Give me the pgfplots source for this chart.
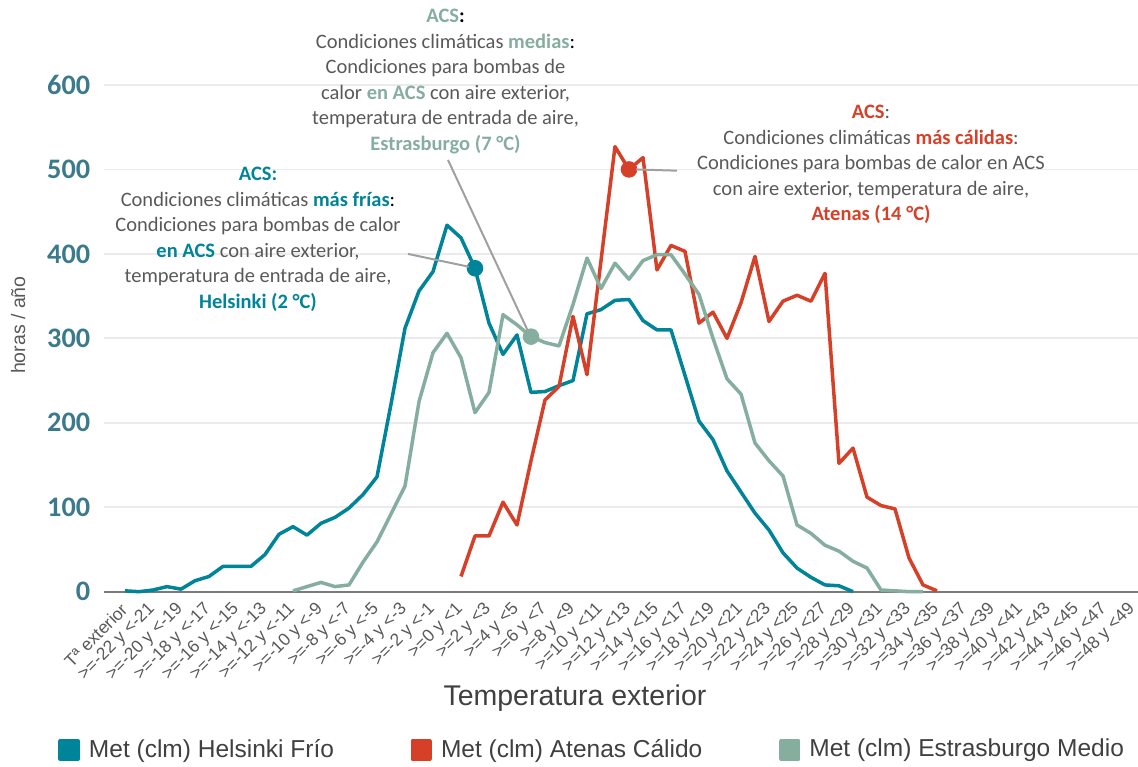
\documentclass[border=0pt]{standalone}
\usepackage{fontspec}
\setmainfont{Carlito}
\newfontfamily\arial{Liberation Sans}
\usepackage{pgfplots}
\pgfplotsset{compat=1.18}

\definecolor{hel}{HTML}{008499}
\definecolor{ate}{HTML}{D64028}
\definecolor{est}{HTML}{86AE9E}
\definecolor{tickc}{HTML}{3A7A8A}
\definecolor{txt}{HTML}{595959}
\definecolor{dark}{HTML}{404040}
\definecolor{lead}{HTML}{A0A0A0}
\definecolor{gridc}{HTML}{EBEBEB}
\definecolor{axc}{HTML}{7A7A7A}

\begin{document}
\begin{tikzpicture}
\begin{axis}[
    scale only axis,
    width=413.6pt, height=202.68pt,
    xmin=-0.5, xmax=73.357,
    ymin=0, ymax=600,
    axis x line*=bottom, axis y line*=left,
    x axis line style={color=axc, line width=0.8pt},
    y axis line style={draw=none},
    major tick length=0pt,
    ytick={0,100,...,600},
    ymajorgrids,
    grid style={color=gridc, line width=0.7pt},
    xtick={0,2,...,72},
    xticklabels={Tª exterior, >=-22 y <-21, >=-20 y <-19, >=-18 y <-17, >=-16 y <-15,
        >=-14 y <-13, >=-12 y <-11, >=-10 y <-9, >=-8 y <-7, >=-6 y <-5, >=-4 y <-3,
        >=-2 y <-1, >=0 y <1, >=2 y <3, >=4 y <5, >=6 y <7, >=8 y <9, >=10 y <11,
        >=12 y <13, >=14 y <15, >=16 y <17, >=18 y <19, >=20 y <21, >=22 y <23,
        >=24 y <25, >=26 y <27, >=28 y <29, >=30 y <31, >=32 y <33, >=34 y <35,
        >=36 y <37, >=38 y <39, >=40 y <41, >=42 y <43, >=44 y <45, >=46 y <47,
        >=48 y <49},
    xticklabel style={font=\arial\fontsize{7}{8}\selectfont, color=txt,
        rotate=45, anchor=east, xshift=3pt, yshift=-8pt},
    /pgf/number format/assume math mode=true,
    yticklabel style={font=\fontsize{11.3}{13}\selectfont\bfseries, color=tickc, xshift=-2pt},
    ylabel={horas / año},
    ylabel style={font=\arial\fontsize{7.8}{9}\selectfont, color=txt,
        at={(axis description cs:-0.083,0.526)}, anchor=center},
    xlabel={Temperatura exterior},
    xlabel style={font=\arial\fontsize{11.4}{13}\selectfont, color=dark,
        at={(axis description cs:0.4555,-0.21)}, anchor=center},
    legend columns=3,
    legend cell align=left,
    legend style={at={(axis description cs:-0.0445,-0.3124)}, anchor=west,
        draw=none, fill=none, inner sep=0pt,
        font=\arial\fontsize{9.8}{11}\selectfont, text=dark,
        /tikz/every odd column/.append style={column sep=1.6pt},
        /tikz/every even column/.append style={column sep=28.6pt}},
    legend image code/.code={\fill[#1] (0pt,-3.6pt) rectangle (7.2pt,3.6pt);},
    clip=false,
]
% Helsinki
\addplot[color=hel, line width=1.4pt, line join=round] coordinates {
(1,1) (2,0) (3,2) (4,6) (5,3) (6,13) (7,18) (8,30) (9,30) (10,30)
(11,44) (12,68) (13,77) (14,67) (15,81) (16,88) (17,99) (18,115) (19,136) (20,222)
(21,312) (22,356) (23,379) (24,434) (25,419) (26,383) (27,318) (28,281) (29,304) (30,236)
(31,237) (32,244) (33,250) (34,329) (35,334) (36,345) (37,346) (38,321) (39,310) (40,310)
(41,256) (42,202) (43,180) (44,143) (45,118) (46,93) (47,73) (48,46) (49,28) (50,17)
(51,8) (52,7) (53,0)
};
% Atenas
\addplot[color=ate, line width=1.4pt, line join=round] coordinates {
(25,18) (26,66) (27,66) (28,106) (29,79) (30,155)
(31,227) (32,243) (33,326) (34,257) (35,392) (36,527) (37,500) (38,514) (39,381) (40,410)
(41,403) (42,318) (43,331) (44,300) (45,342) (46,397) (47,320) (48,344) (49,351) (50,344)
(51,377) (52,152) (53,170) (54,112) (55,102) (56,98) (57,40) (58,8) (59,1)
};
% Estrasburgo
\addplot[color=est, line width=1.4pt, line join=round] coordinates {
(13,1) (14,6) (15,11) (16,6) (17,8) (18,35) (19,59) (20,92)
(21,125) (22,225) (23,283) (24,306) (25,277) (26,212) (27,236) (28,328) (29,316) (30,302)
(31,295) (32,291) (33,340) (34,395) (35,359) (36,389) (37,370) (38,392) (39,399) (40,399)
(41,376) (42,352) (43,300) (44,252) (45,234) (46,176) (47,155) (48,137) (49,79) (50,69)
(51,55) (52,48) (53,36) (54,28) (55,2) (56,1) (57,0) (58,0)
};
\legend{Met (clm) Helsinki Frío, Met (clm) Atenas Cálido, Met (clm) Estrasburgo Medio}

% highlighted points
\addplot[forget plot, only marks, mark=*, mark size=3.1pt, color=hel] coordinates {(26,383)};
\addplot[forget plot, only marks, mark=*, mark size=3.1pt, color=est] coordinates {(30,302)};
\addplot[forget plot, only marks, mark=*, mark size=3.1pt, color=ate] coordinates {(37,500)};
\coordinate (mh) at (axis cs:26,383);
\coordinate (me) at (axis cs:30,302);
\coordinate (ma) at (axis cs:37,500);
\end{axis}

% leader lines
\draw[lead, line width=0.8pt] (121.6pt,135.1pt) -- ([xshift=-2.5pt,yshift=0.6pt]mh);
\draw[lead, line width=0.8pt] (137.6pt,172.7pt) -- ([xshift=-1.4pt,yshift=2.6pt]me);
\draw[lead, line width=0.8pt] ([xshift=2.8pt]ma) -- (229.2pt,168.4pt);

% annotations
\node[align=center, font=\fontsize{8.2}{10.2}\selectfont, text=txt] at (61.6pt,140.9pt)
  {\textbf{\color{hel}ACS:}\\
   Condiciones climáticas \textbf{\color{hel}más frías}\textcolor{black}{:}\\
   Condiciones para bombas de calor\\
   \textbf{\color{hel}en ACS} con aire exterior,\\
   temperatura de entrada de aire,\\
   \textbf{\color{hel}Helsinki (2 °C)}};
\node[align=center, font=\fontsize{8.2}{10.2}\selectfont, text=txt] at (136.6pt,204pt)
  {\textbf{{\color{est}ACS}\textcolor{black}{:}}\\
   Condiciones climáticas \textbf{\color{est}medias}\textcolor{black}{:}\\
   Condiciones para bombas de\\
   calor \textbf{\color{est}en ACS} con aire exterior,\\
   temperatura de entrada de aire,\\
   \textbf{\color{est}Estrasburgo (7 °C)}};
\node[align=center, font=\fontsize{8.2}{10.2}\selectfont, text=txt] at (306.8pt,170.8pt)
  {\textbf{\color{ate}ACS}:\\
   Condiciones climáticas \textbf{\color{ate}más cálidas}:\\
   Condiciones para bombas de calor en ACS\\
   con aire exterior, temperatura de aire,\\
   \textbf{\color{ate}Atenas (14 °C)}};

\pgfresetboundingbox
\useasboundingbox (-41.6pt,-70.12pt) rectangle (413.6pt,236.68pt);
\end{tikzpicture}
\end{document}
